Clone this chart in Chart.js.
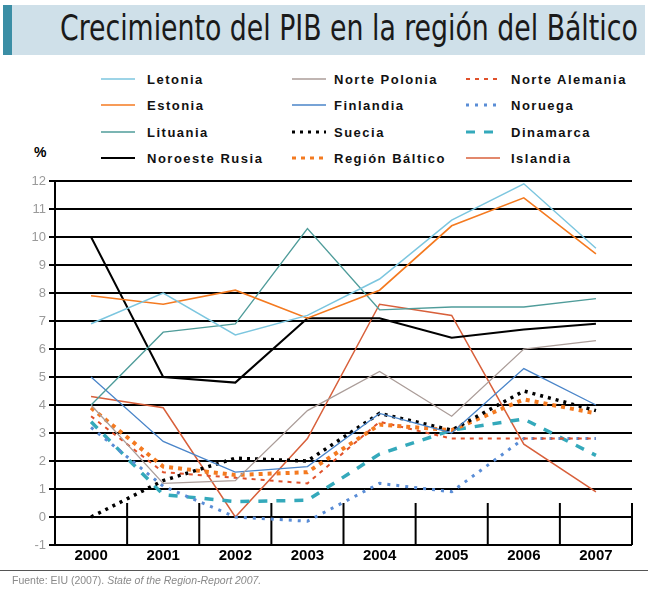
<!DOCTYPE html>
<html>
<head>
<meta charset="utf-8">
<script src="https://cdn.jsdelivr.net/npm/chart.js@4.4.1/dist/chart.umd.min.js"></script>
<style>
  body { margin:0; background:#fff; width:648px; height:589px; overflow:hidden; position:relative; font-family:"Liberation Sans", Arial, sans-serif; }
  #banner { position:absolute; left:3px; top:5px; width:642px; height:50px; background:#cfe0e9; }
  #banner .stripe { position:absolute; left:0; top:0; width:9px; height:50px; background:#3b8ea5; }
  #title { position:absolute; left:60px; top:8px; font-size:36px; line-height:40px; color:#1a1a1a; white-space:nowrap; transform-origin:0 0;
           font-family:"Liberation Sans Narrow", "DejaVu Sans Condensed", sans-serif; }
  #legend .item { position:absolute; height:20px; display:flex; align-items:center; font-weight:bold; font-size:13px; letter-spacing:1.5px; color:#111; }
  #legend svg { position:absolute; }
  #pct { position:absolute; left:34px; top:144px; font-weight:bold; font-size:14px; }
  #foot-line { position:absolute; left:0; top:570px; width:648px; height:1px; background:#555; }
  #foot { position:absolute; left:12px; top:574px; font-size:10.5px; color:#8a8a8a; white-space:nowrap; }
  #wrap { position:absolute; left:0; top:0; width:648px; height:589px; }
</style>
</head>
<body>
<div id="banner"><div class="stripe"></div></div>
<div id="title">Crecimiento del PIB en la región del Báltico</div>
<div id="legend"></div>
<div id="pct">%</div>
<div id="wrap"><canvas id="chart" width="648" height="589"></canvas></div>
<div id="foot-line"></div>
<div id="foot">Fuente: EIU (2007). <i>State of the Region-Report 2007.</i></div>

<script>
  const years = ['2000', '2001', '2002', '2003', '2004', '2005', '2006', '2007'];
  const yTicks = [-1, 0, 1, 2, 3, 4, 5, 6, 7, 8, 9, 10, 11, 12];

  // crecimiento del PIB, %
  const letonia       = [6.9, 8.0, 6.5, 7.2, 8.5, 10.6, 11.9, 9.6];
  const estonia       = [7.9, 7.6, 8.1, 7.1, 8.1, 10.4, 11.4, 9.4];
  const lituania      = [4.0, 6.6, 6.9, 10.3, 7.4, 7.5, 7.5, 7.8];
  const noroesteRusia = [10.0, 5.0, 4.8, 7.1, 7.1, 6.4, 6.7, 6.9];
  const nortePolonia  = [4.0, 1.2, 1.3, 3.8, 5.2, 3.6, 6.0, 6.3];
  const finlandia     = [5.0, 2.7, 1.6, 1.8, 3.7, 3.0, 5.3, 4.0];
  const suecia        = [0.0, 1.3, 2.1, 2.0, 3.7, 3.1, 4.5, 3.8];
  const regionBaltico = [3.9, 1.8, 1.5, 1.6, 3.3, 3.1, 4.2, 3.7];
  const norteAlemania = [3.6, 1.6, 1.4, 1.2, 3.4, 2.8, 2.8, 2.8];
  const noruega       = [3.2, 1.1, 0.0, -0.15, 1.2, 0.9, 2.8, 2.8];
  const dinamarca     = [3.4, 0.8, 0.55, 0.6, 2.25, 3.1, 3.5, 2.2];
  const islandia      = [4.3, 3.9, 0.0, 2.8, 7.6, 7.2, 2.6, 0.9];

  // legend columns, top to bottom
  const series = [
    { label: 'Letonia',        data: letonia,       color: '#7cc6df', width: 1.5, dash: [] },
    { label: 'Estonia',        data: estonia,       color: '#f47a20', width: 1.6, dash: [] },
    { label: 'Lituania',       data: lituania,      color: '#4f9c9a', width: 1.3, dash: [] },
    { label: 'Noroeste Rusia', data: noroesteRusia, color: '#000000', width: 2,   dash: [] },
    { label: 'Norte Polonia',  data: nortePolonia,  color: '#ab9d99', width: 1.3, dash: [] },
    { label: 'Finlandia',      data: finlandia,     color: '#4a85c9', width: 1.3, dash: [] },
    { label: 'Suecia',         data: suecia,        color: '#000000', width: 3.5, dash: [3, 5] },
    { label: 'Región Báltico', data: regionBaltico, color: '#f47a20', width: 4,   dash: [4, 5] },
    { label: 'Norte Alemania', data: norteAlemania, color: '#e0512b', width: 2,   dash: [4, 5] },
    { label: 'Noruega',        data: noruega,       color: '#5a8dd6', width: 3,   dash: [3, 6] },
    { label: 'Dinamarca',      data: dinamarca,     color: '#34a9bb', width: 3.5, dash: [9, 9] },
    { label: 'Islandia',       data: islandia,      color: '#d8603b', width: 1.5, dash: [] }
  ];

  // --- title fit ---
  const title = document.getElementById('title');
  title.style.transform = 'scaleX(' + (578 / title.offsetWidth) + ')';

  // --- legend (3 columns x 4 rows) ---
  const colSample = [101, 292, 466];
  const colText = [147, 334, 511];
  const rowY = [79, 105, 132, 158];
  const legend = document.getElementById('legend');
  series.forEach((s, i) => {
    const col = Math.floor(i / 4), row = i % 4;
    const svg = document.createElementNS('http://www.w3.org/2000/svg', 'svg');
    svg.setAttribute('width', 34); svg.setAttribute('height', 8);
    svg.style.left = colSample[col] + 'px'; svg.style.top = (rowY[row] - 4) + 'px';
    svg.innerHTML = `<line x1="0" y1="4" x2="34" y2="4" stroke="${s.color}" stroke-width="${Math.min(s.width, 3)}" stroke-dasharray="${s.dash.join(' ')}"/>`;
    legend.appendChild(svg);
    const item = document.createElement('div');
    item.className = 'item';
    item.style.left = colText[col] + 'px'; item.style.top = (rowY[row] - 10) + 'px';
    item.textContent = s.label;
    legend.appendChild(item);
  });

  // short vertical marks between the years, from 0.5 down to the -1 axis line
  const yearMarks = {
    id: 'yearMarks',
    beforeDatasetsDraw(chart) {
      const { ctx, chartArea, scales: { x, y } } = chart;
      const top = y.getPixelForValue(0.5);
      const bottom = y.getPixelForValue(-1);
      ctx.save();
      ctx.beginPath();
      ctx.rect(chartArea.left - 2, chartArea.top, chartArea.width + 4, chartArea.height + 1);
      ctx.clip();
      ctx.strokeStyle = '#000';
      ctx.lineWidth = 2;
      for (let i = 1; i <= years.length; i++) {
        const px = i < years.length ? (x.getPixelForValue(i - 1) + x.getPixelForValue(i)) / 2 : chartArea.right;
        ctx.beginPath();
        ctx.moveTo(px, top);
        ctx.lineTo(px, bottom);
        ctx.stroke();
      }
      ctx.restore();
    }
  };

  new Chart(document.getElementById('chart').getContext('2d'), {
    type: 'line',
    data: {
      labels: years,
      datasets: series.map(s => ({
        label: s.label, data: s.data,
        borderColor: s.color, backgroundColor: s.color,
        borderWidth: s.width, borderDash: s.dash,
        pointRadius: 0, tension: 0, fill: false
      }))
    },
    options: {
      responsive: false, animation: false,
      layout: { padding: { top: 181, right: 16, bottom: 20, left: 0 } },
      plugins: { legend: { display: false }, tooltip: { enabled: false } },
      scales: {
        x: {
          offset: true,
          grid: { display: false },
          border: { display: false },
          ticks: { color: '#000', padding: -6, font: { size: 15, weight: 'bold', family: 'Liberation Sans' } },
          afterFit: s => { s.height = 24; }
        },
        y: {
          min: -1, max: 12,
          afterBuildTicks: s => { s.ticks = yTicks.map(v => ({ value: v })); },
          grid: { color: '#000', lineWidth: 2, tickLength: 6 },
          border: { color: '#000', width: 2 },
          ticks: { color: '#9a9a9a', padding: 3, font: { size: 13, family: 'Liberation Sans' } },
          afterFit: s => { s.width = 55; }
        }
      }
    },
    plugins: [yearMarks]
  });
</script>
</body>
</html>
